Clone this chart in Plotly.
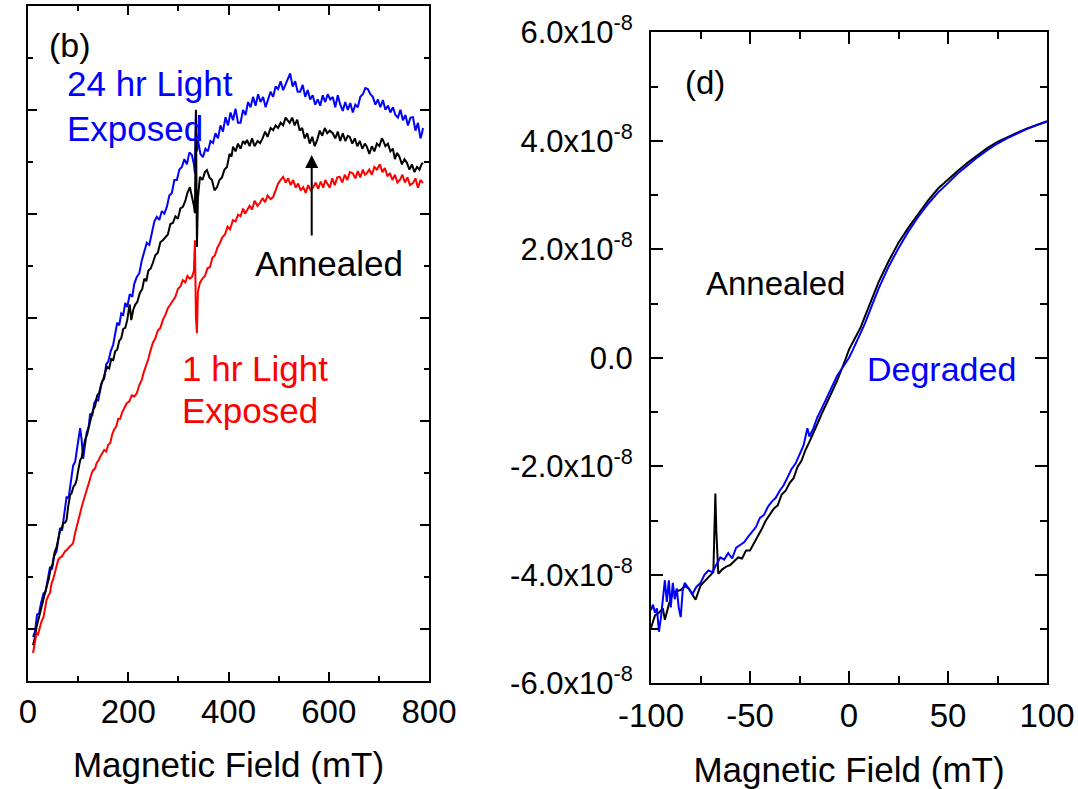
import plotly.graph_objects as go

# ---------------- Panel (b): field in mT, signal in arbitrary units ----------------
blue24_x = [10,14,18,22,26,31,35,40,44,48,52,57,61,64,68,72,77,81,86,90,94,98,101,104,107,110,113,117,121,124,128,132,136,140,144,148,152,156,160,165,170,174,178,182,186,190,194,198,203,208,212,217,222,227,232,237,242,247,252,257,262,267,272,277,282,287,292,297,302,307,312,317,322,327,331,333,335,337,339,344,349,354,359,364,369,374,379,384,389,394,399,404,409,414,419,424,429,434,439,444,449,454,459,464,469,474,479,484,489,494,499,504,509,514,519,523,528,533,538,543,548,553,558,563,568,573,578,583,588,593,598,603,608,613,618,623,628,633,638,643,648,653,658,663,668,673,678,683,688,693,698,703,708,713,718,723,728,733,738,743,748,753,758,763,768,773,778,783,786,788]
blue24_y = [8.5,9.5,12.8,13.0,15.0,16.9,17.2,19.8,22.0,21.5,24.0,25.0,28.0,29.5,29.0,32.0,35.5,35.2,38.5,41.5,42.2,45.5,46.8,48.7,46.5,42.8,45.0,47.8,49.0,51.5,51.0,53.5,54.2,54.0,56.0,57.8,58.2,61.0,61.5,63.5,64.8,66.8,69.0,68.5,70.8,70.5,72.8,72.0,74.5,74.0,76.5,77.8,78.5,81.0,82.5,84.4,84.0,86.5,88.5,89.4,88.8,90.5,90.0,91.3,93.5,94.0,96.5,96.5,98.5,99.0,100.5,99.5,101.8,101.3,99.5,97.8,109.4,102.0,104.2,101.5,100.9,102.5,102.0,104.0,103.6,105.5,104.5,107.0,105.8,108.6,107.0,109.5,108.0,110.2,107.5,107.5,110.0,109.0,111.5,110.5,112.5,110.8,113.0,111.5,112.5,110.5,112.0,113.5,112.5,114.5,114.0,115.5,113.8,115.0,116.2,117.0,114.5,115.5,113.5,113.5,114.8,112.5,113.8,112.0,112.8,111.0,112.0,110.8,112.8,111.5,113.0,112.0,112.5,110.5,112.8,111.0,109.8,111.5,110.0,111.3,109.5,111.0,110.5,112.5,113.0,114.2,114.0,113.0,112.5,111.0,112.0,110.5,111.9,110.0,110.8,109.5,110.5,109.0,108.5,110.0,108.0,109.0,107.0,108.5,108.6,106.0,107.5,104.5,105.5,106.5]

ann_b_x = [10,14,17,21,25,29,33,37,41,45,49,53,57,61,64,67,70,74,77,80,84,87,91,94,97,100,104,107,110,114,118,122,126,130,134,138,142,146,150,154,158,162,166,170,174,178,182,186,190,194,198,201,203,206,210,214,218,223,228,232,236,240,245,249,254,259,264,269,274,279,284,289,294,299,304,309,314,318,323,327,331,333,335,337,339,343,348,353,357,362,367,372,377,382,387,392,397,402,406,409,414,419,424,429,433,437,442,447,452,458,463,468,473,478,484,489,494,499,504,509,514,517,522,527,532,537,542,547,552,557,562,567,572,577,582,587,592,597,602,608,613,618,623,628,633,638,642,647,652,657,662,667,672,676,681,686,691,696,701,706,708,713,718,723,728,732,736,741,746,751,756,761,766,771,776,781,785,788]
ann_b_y = [6.9,8.5,10.4,12.0,13.8,15.0,16.8,18.1,19.5,21.5,22.5,24.8,25.8,27.5,29.0,29.1,30.5,30.5,31.0,33.5,35.8,36.2,37.5,37.8,38.7,40.5,42.5,43.0,44.5,46.5,47.5,49.5,50.8,52.2,53.0,55.0,55.5,57.2,58.0,59.5,60.5,60.2,62.0,61.8,63.5,63.8,65.5,66.0,67.8,68.0,69.5,71.5,72.5,69.5,71.5,72.5,73.0,74.7,75.5,77.5,77.0,79.0,79.5,80.5,82.0,82.5,84.5,84.9,85.5,86.0,88.0,88.2,89.5,89.0,91.0,91.3,92.5,94.0,95.1,93.5,91.5,90.1,110.0,83.6,93.0,97.1,96.5,98.0,98.4,97.0,96.5,94.5,95.1,96.5,97.0,98.5,99.0,101.5,101.0,102.9,102.0,103.5,102.5,104.0,103.5,104.2,103.0,104.5,103.0,104.0,103.6,104.5,105.8,104.8,106.5,106.1,107.0,106.5,107.5,107.0,108.5,108.1,107.5,108.5,107.0,108.1,106.0,106.5,104.5,105.5,103.5,104.8,103.0,104.2,106.0,105.0,106.5,105.5,106.0,105.5,104.5,105.8,104.0,105.5,104.0,105.0,104.8,103.5,104.5,103.0,104.0,102.5,103.5,102.9,101.5,103.0,102.0,103.5,103.0,104.5,104.2,103.0,103.5,102.0,102.5,100.5,101.7,101.0,99.5,100.5,99.8,98.5,99.5,98.0,99.0,98.5,99.5,99.8]

red1_x = [10,13,17,20,24,27,31,34,37,41,44,47,50,54,57,60,64,67,71,74,77,81,84,87,90,94,97,101,104,107,111,114,117,121,124,127,130,134,137,141,144,148,152,156,160,164,168,172,176,180,184,188,192,197,202,207,212,217,222,227,231,235,240,244,249,254,259,264,269,274,279,284,289,294,299,304,309,314,318,323,327,331,333,335,337,339,343,348,353,358,363,368,373,378,383,388,393,398,403,409,414,419,424,429,433,437,442,447,452,458,463,468,473,478,484,489,494,499,504,509,514,519,524,529,534,539,544,549,554,559,564,569,574,579,584,589,593,597,602,607,612,617,622,627,632,637,642,648,653,658,663,668,672,676,681,686,691,696,702,707,712,717,722,727,732,737,742,747,752,757,762,768,773,778,783,788]
red1_y = [5.4,7.0,9.2,9.0,10.4,11.5,12.3,14.0,15.6,16.5,17.0,18.8,19.5,21.0,22.5,23.3,23.8,23.9,24.5,25.0,25.2,25.8,26.0,26.2,26.6,28.5,29.5,31.0,32.3,33.5,35.0,36.0,36.8,38.0,39.2,40.0,40.6,41.0,42.0,42.5,43.2,43.8,44.5,44.2,45.5,45.8,47.5,48.5,49.0,50.5,50.5,51.8,52.5,53.5,53.8,55.0,54.8,55.4,57.0,58.0,59.5,60.5,62.0,63.5,65.1,66.0,67.5,68.0,69.5,70.5,71.8,72.5,73.4,74.0,75.5,76.0,77.2,76.8,78.0,77.5,77.8,79.0,84.9,70.0,67.0,75.0,76.7,77.5,78.0,79.5,79.7,81.5,82.0,83.5,84.4,85.5,86.0,87.5,87.0,88.8,88.5,89.8,89.5,91.0,90.0,90.7,91.5,90.8,92.5,91.5,92.1,93.0,92.2,93.5,92.8,93.2,94.5,95.8,96.5,97.1,96.0,96.8,95.5,96.5,95.0,95.8,94.5,95.1,94.0,95.5,94.5,95.1,96.0,94.8,96.2,95.0,96.5,95.9,95.0,96.8,95.5,97.0,97.1,96.0,97.5,96.5,98.0,97.8,96.8,98.2,97.0,98.5,97.5,97.8,98.5,97.5,99.0,98.5,99.5,98.0,98.8,97.2,97.8,96.5,97.5,96.0,96.5,97.5,96.0,97.0,95.5,95.9,96.8,95.0,96.5,95.9]

# ---------------- Panel (d): field in mT, signal in units of 1e-8 ----------------
ann_d_x = [-100,-98,-96,-94,-93,-91,-89,-87,-85,-83,-81,-79,-77.5,-75,-72,-70,-68.5,-67.5,-67,-66,-64,-62,-60,-58,-56,-54,-52,-50,-48,-46,-44,-42,-40,-38,-36,-34,-32,-30,-28,-26,-24,-22,-20,-18,-16,-14,-12,-10,-8,-6,-4,-2,0,2,4,6,8,10,12,15,20,25,30,35,40,45,50,55,60,65,70,75,80,85,90,95,100]
ann_d_y = [-4.98,-4.75,-4.70,-4.62,-4.83,-4.55,-4.34,-4.30,-4.28,-4.21,-4.25,-4.38,-4.46,-4.20,-4.09,-4.00,-3.95,-2.50,-3.20,-3.98,-3.90,-3.85,-3.82,-3.75,-3.68,-3.70,-3.55,-3.55,-3.42,-3.28,-3.15,-3.00,-2.90,-2.78,-2.72,-2.52,-2.45,-2.31,-2.22,-2.01,-1.90,-1.70,-1.55,-1.40,-1.22,-1.05,-0.90,-0.76,-0.58,-0.42,-0.25,-0.05,0.15,0.30,0.43,0.57,0.76,0.95,1.12,1.40,1.78,2.12,2.40,2.66,2.90,3.12,3.29,3.45,3.60,3.74,3.87,3.98,4.07,4.15,4.23,4.30,4.36]

deg_d_x = [-100,-99,-98,-97,-96,-95,-94,-93,-92,-91,-90,-89,-88,-87,-86,-85,-84,-83,-81,-79,-77,-75,-73,-71,-69,-67,-65,-63,-61,-59,-57,-55,-53,-51,-49,-47,-45,-43,-41,-39,-37,-35,-33,-31,-29,-27,-25,-23,-21,-20,-18,-16,-14,-12,-10,-8,-6,-4,-2,0,2,4,6,8,10,12,15,20,25,30,35,40,45,50,55,60,65,70,75,80,85,90,95,100]
deg_d_y = [-4.65,-4.55,-4.70,-4.62,-5.05,-4.80,-4.45,-4.10,-4.50,-4.10,-4.60,-4.15,-4.45,-4.25,-4.60,-4.78,-4.30,-4.15,-4.25,-4.35,-4.22,-4.15,-4.00,-3.92,-3.95,-3.82,-3.68,-3.72,-3.60,-3.70,-3.50,-3.45,-3.40,-3.30,-3.22,-3.12,-2.95,-2.90,-2.75,-2.65,-2.58,-2.45,-2.35,-2.20,-2.05,-1.95,-1.80,-1.62,-1.30,-1.45,-1.30,-1.10,-0.95,-0.80,-0.63,-0.48,-0.33,-0.22,-0.10,0.00,0.15,0.30,0.46,0.63,0.82,1.00,1.28,1.68,2.02,2.33,2.60,2.84,3.05,3.22,3.40,3.55,3.70,3.83,3.95,4.05,4.14,4.22,4.29,4.35]

x_ticks_b = [0, 200, 400, 600, 800]
x_ticktext_b = ["0", "200", "400", "600", "800"]
y_ticks_d = [-6, -4, -2, 0, 2, 4, 6]
y_ticktext_d = ["-6.0x10<sup>-8</sup>", "-4.0x10<sup>-8</sup>", "-2.0x10<sup>-8</sup>", "0.0",
                "2.0x10<sup>-8</sup>", "4.0x10<sup>-8</sup>", "6.0x10<sup>-8</sup>"]
x_ticks_d = [-100, -50, 0, 50, 100]
x_ticktext_d = ["-100", "-50", "0", "50", "100"]

FONT = "Liberation Sans, Arial, sans-serif"
BLUE = "#0000FF"
RED = "#FF0000"
BLACK = "#000000"


def pair(xs, ys):
    n = min(len(xs), len(ys))
    return xs[:n], ys[:n]


fig = go.Figure()
for xs, ys, col in [(blue24_x, blue24_y, BLUE), (ann_b_x, ann_b_y, BLACK), (red1_x, red1_y, RED)]:
    xx, yy = pair(xs, ys)
    fig.add_trace(go.Scatter(x=xx, y=yy, mode="lines", line=dict(color=col, width=2),
                             xaxis="x", yaxis="y", showlegend=False, hoverinfo="skip"))
for xs, ys, col in [(ann_d_x, ann_d_y, BLACK), (deg_d_x, deg_d_y, BLUE)]:
    xx, yy = pair(xs, ys)
    fig.add_trace(go.Scatter(x=xx, y=yy, mode="lines", line=dict(color=col, width=2),
                             xaxis="x2", yaxis="y2", showlegend=False, hoverinfo="skip"))

common = dict(showgrid=False, zeroline=False, showline=True, linecolor="black", linewidth=2,
              mirror="ticks", ticks="inside", tickcolor="black", tickwidth=2, automargin=False)

fig.update_layout(
    width=1078, height=789,
    margin=dict(l=0, r=0, t=0, b=0, autoexpand=False),
    paper_bgcolor="white", plot_bgcolor="white",
    font=dict(family=FONT, color="black", size=32),
    showlegend=False,
    xaxis=dict(domain=[28/1078, 429/1078], range=[0, 800], tickvals=x_ticks_b, ticktext=x_ticktext_b,
               ticklen=9, minor=dict(ticks="inside", dtick=100, tick0=0, ticklen=5, tickwidth=2, tickcolor="black"),
               tickfont=dict(size=33), ticklabelstandoff=0,
               title=dict(text="Magnetic Field (mT)", font=dict(size=35), standoff=24),
               anchor="y", **common),
    yaxis=dict(domain=[108/789, 783/789], range=[0, 130], tick0=10, dtick=20,
               ticklen=9, minor=dict(ticks="inside", dtick=10, tick0=0, ticklen=5, tickwidth=2, tickcolor="black"),
               showticklabels=False, anchor="x", **common),
    xaxis2=dict(domain=[651/1078, 1047/1078], range=[-100, 100], tickvals=x_ticks_d, ticktext=x_ticktext_d,
                ticklen=12, minor=dict(ticks="inside", dtick=25, tick0=0, ticklen=7, tickwidth=2, tickcolor="black"),
                tickfont=dict(size=33), ticklabelstandoff=2,
                title=dict(text="Magnetic Field (mT)", font=dict(size=35), standoff=34),
                anchor="y2", **common),
    yaxis2=dict(domain=[105.7/789, 756.7/789], range=[-6, 6], tickvals=y_ticks_d, ticktext=y_ticktext_d,
                ticklen=12, minor=dict(ticks="inside", dtick=1, tick0=0, ticklen=7, tickwidth=2, tickcolor="black"),
                tickfont=dict(size=31), ticklabelstandoff=10,
                anchor="x2", **common),
)

annotations = [
    dict(x=84, y=122.5, xref="x", yref="y", text="(b)", showarrow=False,
         font=dict(size=34, color=BLACK), xanchor="center", yanchor="middle"),
    dict(x=74, y=115.0, xref="x", yref="y", text="24 hr Light", showarrow=False,
         font=dict(size=35, color=BLUE), xanchor="left", yanchor="middle"),
    dict(x=74, y=106.5, xref="x", yref="y", text="Exposed", showarrow=False,
         font=dict(size=35, color=BLUE), xanchor="left", yanchor="middle"),
    dict(x=449, y=80.5, xref="x", yref="y", text="Annealed", showarrow=False,
         font=dict(size=35, color=BLACK), xanchor="left", yanchor="middle"),
    dict(x=303, y=60.1, xref="x", yref="y", text="1 hr Light", showarrow=False,
         font=dict(size=35, color=RED), xanchor="left", yanchor="middle"),
    dict(x=303, y=52.0, xref="x", yref="y", text="Exposed", showarrow=False,
         font=dict(size=35, color=RED), xanchor="left", yanchor="middle"),
    dict(x=566, y=101.3, ax=566, ay=85.5, xref="x", yref="y", axref="x", ayref="y",
         text="", showarrow=True, arrowhead=2, arrowsize=1.3, arrowwidth=2, arrowcolor=BLACK),
    dict(x=-72.9, y=5.08, xref="x2", yref="y2", text="(d)", showarrow=False,
         font=dict(size=33, color=BLACK), xanchor="center", yanchor="middle"),
    dict(x=-73.4, y=1.37, xref="x2", yref="y2", text="Annealed", showarrow=False,
         font=dict(size=33, color=BLACK), xanchor="left", yanchor="middle"),
    dict(x=7.9, y=-0.20, xref="x2", yref="y2", text="Degraded", showarrow=False,
         font=dict(size=34, color=BLUE), xanchor="left", yanchor="middle"),
]
fig.update_layout(annotations=annotations)

fig.write_html("out.html")
